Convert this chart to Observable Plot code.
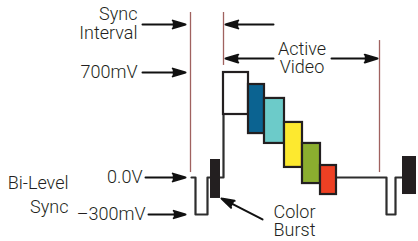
<!DOCTYPE html>
<html><head><meta charset="utf-8">
<script src="https://cdn.jsdelivr.net/npm/d3@7"></script>
<script src="https://cdn.jsdelivr.net/npm/@observablehq/plot@0.6"></script>
<style>html,body{margin:0;padding:0;background:#fff;} svg{display:block}</style>
</head><body><div id="chart"></div>
<script>
// Horizontal axis: time along the video line (arbitrary units); vertical: signal level in mV
const syncT = [0.5, 2.5, 2.5, 8.5, 8.5, 16.5, 16.5];
const syncV = [0, 0, -300, -300, 0, 0, 700];
const tailT = [73, 98, 98, 102.5, 102.5, 106];
const tailV = [0, 0, -300, -300, 0, 0];

const barNames = ["White", "Blue", "Cyan", "Yellow", "Green", "Red"];
const barStart = [16.5, 29, 37, 47, 56, 65];
const barEnd = [29, 37, 47, 56, 65, 73];
const barHigh = [700, 620, 527, 367, 227, 80];
const barLow = [420, 293, 227, 67, -49, -138];
const barColors = ["#ffffff", "#0b6391", "#6ccbc9", "#fde92f", "#8bae2f", "#ee4023"];

const burstStart = [10, 106];
const burstEnd = [15, 113];
const burstHigh = [120, 140];
const burstLow = [-170, -138];

const markerT = [0, 16.5, 94.5];
const markerTop = [1100, 1100, 913];
const markerBottom = [33, 747, 33];

const arrowFromT = [-24, -24, -22.5, -21, 41.5, 41.5, 70.5, 36];
const arrowFromV = [1020, 700, 0, -300, 1020, 793, 793, -340];
const arrowToT = [-2.5, -2.5, -2.5, -2.5, 17.5, 17.5, 93.5, 15.5];
const arrowToV = [1020, 700, 0, -300, 1020, 793, 793, -170];

const rightLabels = ["Sync\nInterval", "700mV", "0.0V", "–300mV"];
const rightLabelT = [-26.5, -26.5, -24, -22.5];
const rightLabelV = [1025, 700, 0, -300];

const sideLabel = ["Bi-Level\nSync"];
const sideLabelT = [-61];
const sideLabelV = [-126];

const centerLabels = ["Active\nVideo", "Color\nBurst"];
const centerLabelT = [55.75, 52];
const centerLabelV = [793, -357];

const ink = "#231f20";
const idx = n => d3.range(n);
// the drawing is schematic: the sync region below 0 V is drawn compressed
const syncCompression = 0.8222;

const chart = Plot.plot({
  width: 418, height: 241, margin: 0,
  x: {domain: [-95, 114], axis: null},
  y: {type: "linear", domain: [-426.67, 1180], transform: v => v < 0 ? v * syncCompression : v, axis: null},
  style: {fontFamily: "Roboto, 'Noto Sans', sans-serif", fontSize: "18px", fontWeight: 300, color: ink, background: "#fff"},
  marks: [
    Plot.ruleX(idx(markerT.length), {x: i => markerT[i], y1: i => markerTop[i], y2: i => markerBottom[i], stroke: "#a0625f", strokeWidth: 1.3}),
    Plot.line(idx(syncT.length), {x: i => syncT[i], y: i => syncV[i], stroke: "#2e2e2e", strokeWidth: 2.2}),
    Plot.line(idx(tailT.length), {x: i => tailT[i], y: i => tailV[i], stroke: "#2e2e2e", strokeWidth: 2.2}),
    Plot.rect(idx(barNames.length), {x1: i => barStart[i], x2: i => barEnd[i], y1: i => barLow[i], y2: i => barHigh[i], fill: i => barColors[i], stroke: ink, strokeWidth: 2.2}),
    Plot.rect(idx(burstStart.length), {x1: i => burstStart[i], x2: i => burstEnd[i], y1: i => burstLow[i], y2: i => burstHigh[i], fill: ink}),
    Plot.arrow(idx(arrowFromT.length), {x1: i => arrowFromT[i], y1: i => arrowFromV[i], x2: i => arrowToT[i], y2: i => arrowToV[i], stroke: "#111", fill: "#111", strokeWidth: 2, headLength: 10, headAngle: 34}),
    Plot.text(idx(rightLabels.length), {x: i => rightLabelT[i], y: i => rightLabelV[i], text: i => rightLabels[i], textAnchor: "end", lineAnchor: "middle", lineHeight: 1.02, fill: ink}),
    Plot.text(idx(sideLabel.length), {x: i => sideLabelT[i], y: i => sideLabelV[i], text: i => sideLabel[i], textAnchor: "end", lineAnchor: "middle", lineHeight: 1.33, fill: ink}),
    Plot.text(idx(centerLabels.length), {x: i => centerLabelT[i], y: i => centerLabelV[i], text: i => centerLabels[i], textAnchor: "middle", lineAnchor: "middle", lineHeight: 0.98, fill: ink})
  ]
});
document.getElementById("chart").appendChild(chart);
</script>
</body></html>
